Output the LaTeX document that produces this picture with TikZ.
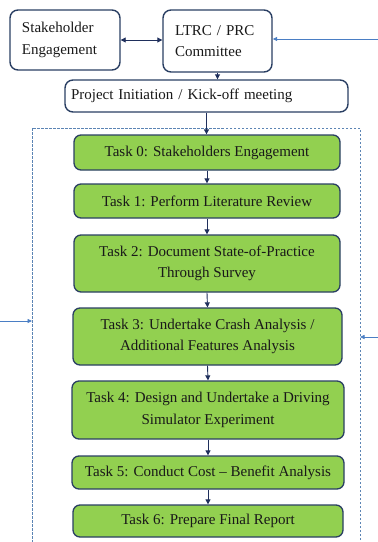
\documentclass[tikz,border=0pt]{standalone}
\usepackage{fontspec}
\setmainfont{Liberation Serif}
\usetikzlibrary{arrows.meta}
\definecolor{navy}{HTML}{1F2F5C}
\definecolor{boxedge}{HTML}{2A3F63}
\definecolor{taskgreen}{HTML}{92D050}
\definecolor{dashblue}{HTML}{5B84B4}
\definecolor{feedblue}{HTML}{4A7EC4}
\tikzset{
  txt/.style={font=\fontsize{15}{21.5}\selectfont, text=black!90},
  whitebox/.style={txt, draw=boxedge, line width=1.4pt, rounded corners=8pt,
    fill=white, inner xsep=0pt, inner ysep=0pt},
  taskbox/.style={txt, draw=boxedge, line width=1.3pt, rounded corners=7pt,
    fill=taskgreen, align=center, inner sep=0pt},
  flow/.style={draw=navy, line width=0.9pt, -{Triangle[length=5pt,width=5pt]}},
  both/.style={draw=navy, line width=0.9pt, {Triangle[length=5pt,width=5pt]}-{Triangle[length=5pt,width=5pt]}},
  feed/.style={draw=feedblue, line width=0.8pt, -{Triangle[length=4.5pt,width=4pt]}},
  group/.style={draw=dashblue, line width=0.9pt, dash pattern=on 2.5pt off 1.5pt}
}
\begin{document}
\begin{tikzpicture}[x=1pt,y=-1pt]
\useasboundingbox (0,0) rectangle (378,542);
\clip (0,0) rectangle (378,542);

% committee level
\node[whitebox, minimum width=110pt, minimum height=60pt, text width=86pt, align=left]
  (stake) at (65,40) {Stakeholder\\Engagement};
\node[whitebox, minimum width=109pt, minimum height=62pt, text width=85pt, align=left]
  (ltrc) at (217.5,41) {LTRC / PRC\\Committee};
\node[whitebox, minimum width=283pt, minimum height=32pt, text width=271pt, align=left]
  (proj) at (206.5,96) {Project Initiation / Kick-off meeting};

% dashed group around the tasks
\coordinate (dtl) at (32,128);
\coordinate (dbr) at (360,552);
\draw[group] (dtl) rectangle (dbr);

% tasks
\node[taskbox, minimum width=266pt, minimum height=35pt] (t0) at (207,152.5)
  {Task 0: Stakeholders Engagement};
\node[taskbox, minimum width=266pt, minimum height=34pt] (t1) at (207,201)
  {Task 1: Perform Literature Review};
\node[taskbox, minimum width=266pt, minimum height=57pt] (t2) at (207,263.5)
  {Task 2: Document State-of-Practice\\Through Survey};
\node[taskbox, minimum width=269pt, minimum height=57pt] (t3) at (207.5,336.5)
  {Task 3: Undertake Crash Analysis /\\Additional Features Analysis};
\node[taskbox, minimum width=272pt, minimum height=58pt] (t4) at (208,410)
  {Task 4: Design and Undertake a Driving\\Simulator Experiment};
\node[taskbox, minimum width=272pt, minimum height=33pt] (t5) at (208,472.5)
  {Task 5: Conduct Cost -- Benefit Analysis};
\node[taskbox, minimum width=270pt, minimum height=32pt] (t6) at (208,521)
  {Task 6: Prepare Final Report};

% connectors
\draw[both] (stake.east) -- (stake.east -| ltrc.west);
\draw[flow] (ltrc.south) -- (ltrc.south |- proj.north);
\draw[flow] (proj.south) -- (proj.south |- t0.north);
\draw[flow] (t0.south) -- (t1.north);
\draw[flow] (t1.south) -- (t2.north);
\draw[flow] (t2.south) -- (t3.north);
\draw[flow] (t3.south) -- (t4.north);
\draw[flow] (t4.south) -- (t5.north);
\draw[flow] (t5.south) -- (t6.north);

% feedback inputs from outside
\coordinate (inR) at (378,39);
\coordinate (inL) at (0,321);
\coordinate (inR2) at (378,337);
\draw[feed] (inR) -- (inR -| ltrc.east);
\draw[feed] (inL) -- (inL -| dtl);
\draw[feed] (inR2) -- (inR2 -| dbr);
\end{tikzpicture}
\end{document}
